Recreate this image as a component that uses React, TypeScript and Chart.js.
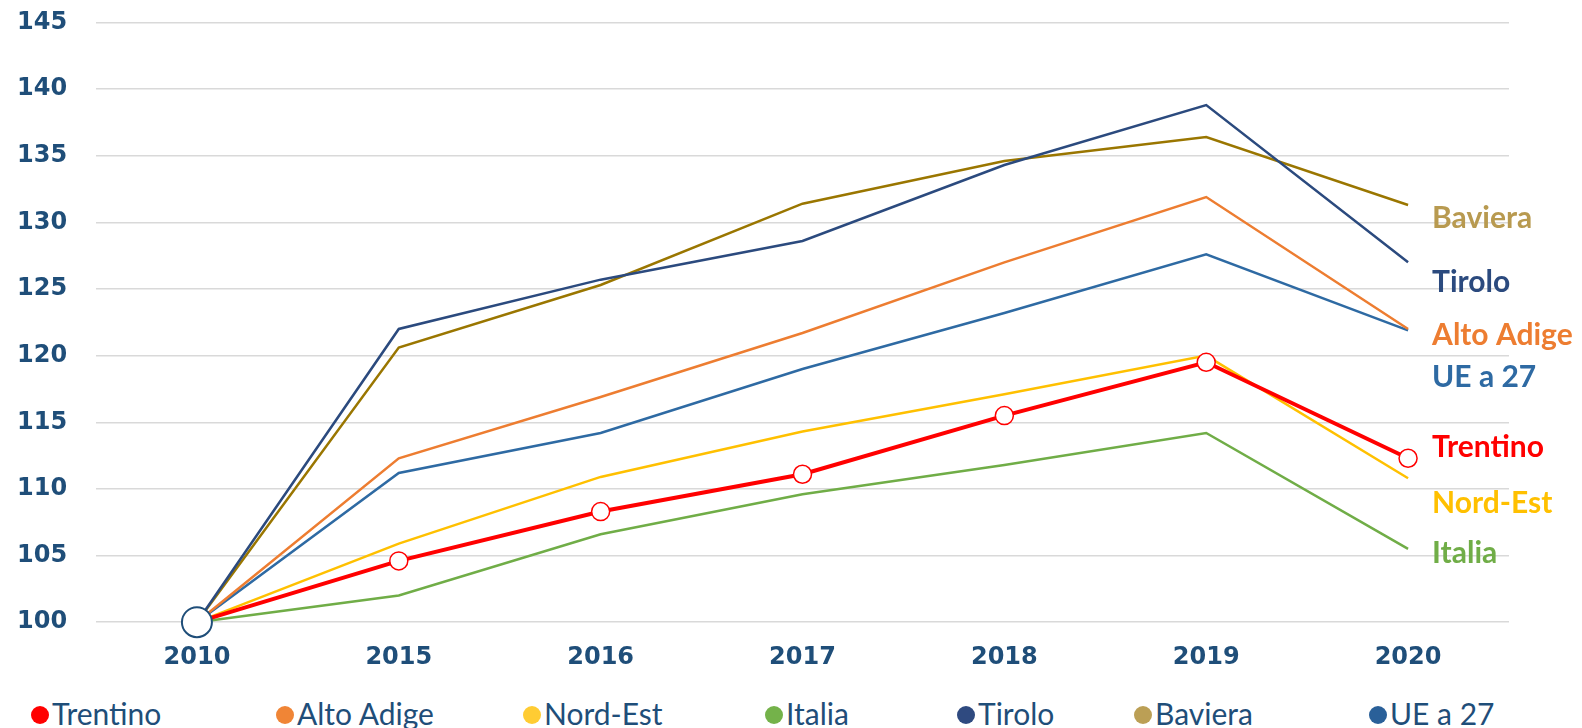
import React, { useEffect, useRef } from "react";
import { Chart, registerables } from "chart.js";

Chart.register(...registerables);

const categories = ["2010", "2015", "2016", "2017", "2018", "2019", "2020"];
const seriesNames = ["Trentino", "Alto Adige", "Nord-Est", "Italia", "Tirolo", "Baviera", "UE a 27"];
const trentino = [100, 104.6, 108.3, 111.1, 115.5, 119.5, 112.3];
const altoAdige = [100, 112.3, 116.9, 121.7, 127.0, 131.9, 122.0];
const nordEst = [100, 105.9, 110.9, 114.3, 117.1, 120.0, 110.8];
const italia = [100, 102.0, 106.6, 109.6, 111.8, 114.2, 105.5];
const tirolo = [100, 122.0, 125.7, 128.6, 134.3, 138.8, 127.0];
const baviera = [100, 120.6, 125.3, 131.4, 134.6, 136.4, 131.3];
const ue27 = [100, 111.2, 114.2, 119.0, 123.2, 127.6, 121.9];
const yMin = 100;
const yMax = 145;
const yStep = 5;
// value at which each series' end label is written (to avoid overlaps)
const endLabelValues = [113.1, 121.5, 108.9, 105.2, 125.5, 130.3, 118.4];

const lineColors = ["#FF0000", "#ED7D31", "#FFC000", "#70AD47", "#2B4A7E", "#9A7600", "#2E6AA3"];
const labelColors = ["#FF0000", "#ED7D31", "#FFC000", "#70AD47", "#2B4A7E", "#B89A50", "#2E6AA3"];
const legendColors = ["#FF0000", "#F08536", "#FFCC33", "#74B24A", "#2F4A80", "#BB9F55", "#2A6099"];
const seriesValues = [trentino, altoAdige, nordEst, italia, tirolo, baviera, ue27];

const AXIS_COLOR = "#1F4E79";

const endLabelsPlugin = {
  id: "endLabels",
  afterDatasetsDraw(chart: any) {
    const { ctx, scales } = chart;
    const y = scales.y;
    chart.data.datasets.forEach((ds: any, i: number) => {
      const meta = chart.getDatasetMeta(i);
      const last = meta.data[meta.data.length - 1];
      if (!last) return;
      ctx.save();
      ctx.font = "bold 30px Lato";
      ctx.fillStyle = labelColors[i];
      ctx.textBaseline = "middle";
      ctx.textAlign = "left";
      ctx.fillText(ds.label, last.x + 24, y.getPixelForValue(endLabelValues[i]));
      ctx.restore();
    });
  },
};

export default function App() {
  const canvasRef = useRef<HTMLCanvasElement | null>(null);

  useEffect(() => {
    if (!canvasRef.current) return;
    const datasets = seriesNames.map((name, i) => {
      const isTrentino = i === 0;
      return {
        label: name,
        data: seriesValues[i],
        borderColor: lineColors[i],
        backgroundColor: lineColors[i],
        borderWidth: isTrentino ? 4 : 2.5,
        tension: 0,
        fill: false,
        clip: false,
        pointRadius: isTrentino ? seriesValues[i].map((_, j) => (j === 0 ? 15 : 9)) : 0,
        pointHoverRadius: 0,
        pointBackgroundColor: "#FFFFFF",
        pointBorderColor: isTrentino ? seriesValues[i].map((_, j) => (j === 0 ? AXIS_COLOR : "#FF0000")) : lineColors[i],
        pointBorderWidth: isTrentino ? seriesValues[i].map((_, j) => (j === 0 ? 2 : 1.5)) : 0,
        order: i,
      };
    });

    const chart = new Chart(canvasRef.current, {
      type: "line",
      data: { labels: categories, datasets },
      options: {
        animation: false,
        responsive: false,
        maintainAspectRatio: false,
        layout: { padding: { top: 0, left: 17, right: 73, bottom: 0 } },
        plugins: {
          legend: { display: false },
          tooltip: { enabled: false },
        },
        scales: {
          x: {
            offset: true,
            grid: { display: false, drawTicks: false },
            border: { display: false },
            ticks: {
              color: AXIS_COLOR,
              font: { family: "DejaVu Sans", weight: "bold", size: 24 },
              padding: 21,
            },
          },
          y: {
            min: yMin,
            max: yMax,
            grid: { color: "#D9D9D9", lineWidth: 1.5, drawTicks: false },
            border: { display: false },
            afterFit: (scale: any) => {
              scale.width = 79;
            },
            ticks: {
              stepSize: yStep,
              color: AXIS_COLOR,
              crossAlign: "far",
              font: { family: "DejaVu Sans", weight: "bold", size: 24 },
              padding: 8,
            },
          },
        },
      },
      plugins: [endLabelsPlugin],
    } as any);
    return () => chart.destroy();
  }, []);

  const legendCell = [245, 247, 242, 192, 177, 235, 200];

  return (
    <div style={{ position: "fixed", top: 0, left: 0, width: 1582, height: 728, background: "#FFFFFF", overflow: "hidden" }}>
      <canvas ref={canvasRef} width={1582} height={693} style={{ display: "block", width: 1582, height: 693 }} />
      <div
        style={{
          position: "absolute",
          top: 697,
          left: 31,
          display: "flex",
          fontFamily: "Lato",
          fontSize: 30,
          lineHeight: "32px",
          color: AXIS_COLOR,
          whiteSpace: "nowrap",
        }}
      >
        {seriesNames.map((name, i) => (
          <div key={name} style={{ width: legendCell[i], display: "flex", alignItems: "center" }}>
            <span
              style={{
                display: "inline-block",
                width: 18,
                height: 18,
                borderRadius: "50%",
                background: legendColors[i],
                marginRight: 3,
                marginTop: 4,
              }}
            />
            <span>{name}</span>
          </div>
        ))}
      </div>
    </div>
  );
}
